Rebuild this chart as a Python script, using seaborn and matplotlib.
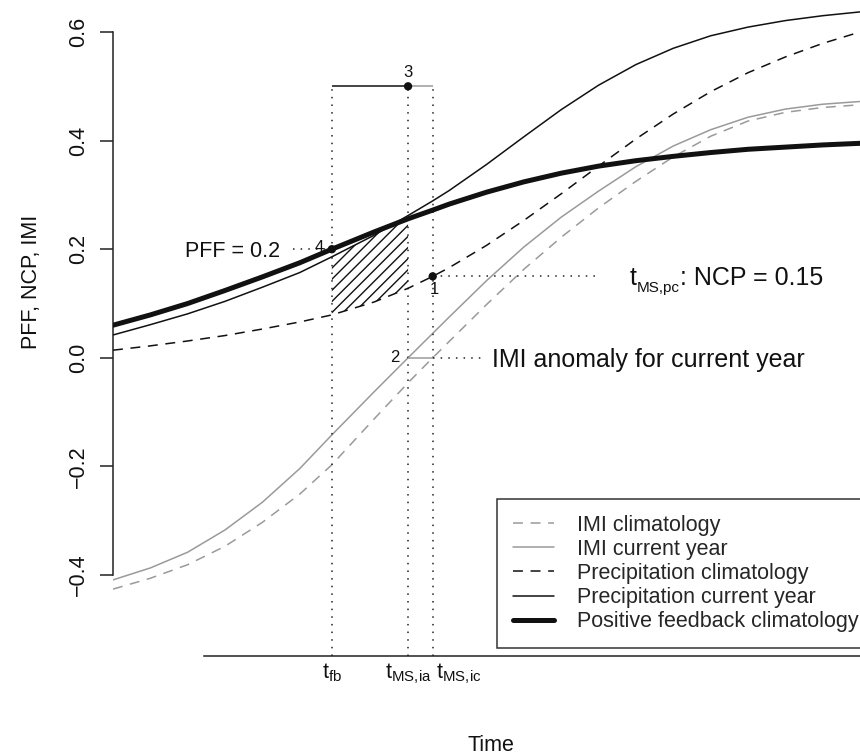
import numpy as np
import pandas as pd
import matplotlib
matplotlib.use("Agg")
import matplotlib.pyplot as plt
import seaborn as sns
from matplotlib.lines import Line2D

# ---------------- data ----------------
time = [0, 5, 10, 15, 20, 25, 29.3, 35, 39.5, 42.8, 45, 50, 55, 60, 65, 70, 75, 80, 85, 90, 95, 100]
pff_clim = [0.060, 0.079, 0.100, 0.124, 0.149, 0.175, 0.200, 0.232, 0.256, 0.272, 0.283, 0.305,
            0.324, 0.340, 0.353, 0.363, 0.371, 0.378, 0.384, 0.388, 0.392, 0.395]
precip_cur = [0.042, 0.061, 0.081, 0.104, 0.130, 0.157, 0.186, 0.226, 0.262, 0.289, 0.308, 0.356,
              0.407, 0.457, 0.502, 0.540, 0.570, 0.593, 0.609, 0.621, 0.630, 0.637]
precip_clim = [0.014, 0.022, 0.031, 0.041, 0.053, 0.066, 0.079, 0.103, 0.128, 0.150, 0.166, 0.207,
               0.253, 0.302, 0.353, 0.403, 0.449, 0.490, 0.525, 0.554, 0.579, 0.600]
imi_cur = [-0.409, -0.387, -0.358, -0.317, -0.266, -0.204, -0.142, -0.062, 0.0, 0.045, 0.075, 0.142,
           0.204, 0.259, 0.307, 0.352, 0.390, 0.420, 0.443, 0.458, 0.467, 0.472]
imi_clim = [-0.426, -0.406, -0.381, -0.347, -0.303, -0.251, -0.197, -0.112, -0.046, 0.0, 0.030, 0.098,
            0.163, 0.222, 0.276, 0.325, 0.370, 0.408, 0.436, 0.452, 0.461, 0.466]

t_fb, t_ms_ia, t_ms_ic = 29.3, 39.5, 42.8
pff_value = 0.2
ncp_value = 0.15
imi_anomaly = 0.0
top_level = 0.5
y_ticks = [-0.4, -0.2, 0.0, 0.2, 0.4, 0.6]
x_tick_labels = [r"$\mathregular{t_{fb}}$", r"$\mathregular{t_{MS,\!ia}}$", r"$\mathregular{t_{MS,\!ic}}$"]
legend_labels = ["IMI climatology", "IMI current year", "Precipitation climatology",
                 "Precipitation current year", "Positive feedback climatology"]

# ---------------- style ----------------
sns.set_theme(style="white")
plt.rcParams["font.family"] = ["Liberation Sans", "DejaVu Sans"]
plt.rcParams["mathtext.fontset"] = "custom"
plt.rcParams["mathtext.rm"] = "Liberation Sans"
plt.rcParams["mathtext.it"] = "Liberation Sans:italic"
plt.rcParams["mathtext.bf"] = "Liberation Sans:bold"
plt.rcParams["hatch.linewidth"] = 1.0
plt.rcParams["hatch.color"] = "#111111"

BLACK = "#111111"
GRAY = "#9a9a9a"
AX = "#222222"
DASH = (0, (6.5, 5))
DOT = (0, (1, 4))
FS = 15.5
FS_BIG = 18
FS_SUB = 11
FS_NUM = 12
W, H = 860, 756

fig = plt.figure(figsize=(W / 100, H / 100), dpi=100)
ax = fig.add_axes([113 / W, 100 / H, 747 / W, 656 / H])

ylim = (-0.4 - 81 / 543, 0.6 + 32 / 543)
ax.set_xlim(0, 100)
ax.set_ylim(*ylim)

df = pd.DataFrame({"time": time, "pff": pff_clim, "pcur": precip_cur, "pclim": precip_clim,
                   "icur": imi_cur, "iclim": imi_clim})

# hatched region between precipitation climatology and min(current precip, PFF)
t_arr = df["time"].to_numpy()
ax.fill_between(t_arr, df["pclim"], np.minimum(df["pcur"], df["pff"]),
                where=(t_arr >= t_fb) & (t_arr <= t_ms_ia), facecolor="none",
                edgecolor=BLACK, hatch="///", linewidth=0, zorder=1)

common = dict(ax=ax, estimator=None, sort=False, legend=False)
sns.lineplot(data=df, x="time", y="iclim", color=GRAY, linewidth=1.1, linestyle=DASH, zorder=2, **common)
sns.lineplot(data=df, x="time", y="icur", color=GRAY, linewidth=1.1, zorder=2, **common)
sns.lineplot(data=df, x="time", y="pclim", color=BLACK, linewidth=1.1, linestyle=DASH, zorder=3, **common)
sns.lineplot(data=df, x="time", y="pcur", color=BLACK, linewidth=1.1, zorder=3, **common)
sns.lineplot(data=df, x="time", y="pff", color=BLACK, linewidth=3.6, zorder=4, **common)

# guide lines
ax.vlines([t_fb, t_ms_ia, t_ms_ic], ylim[0], top_level, colors=AX, linestyles=DOT, linewidth=1.1, zorder=2)
ax.hlines(top_level, t_fb, t_ms_ia, colors=BLACK, linewidth=1.1, zorder=3)
ax.hlines(top_level, t_ms_ia, t_ms_ic, colors=GRAY, linewidth=1.1, zorder=3)
ax.hlines(imi_anomaly, t_ms_ia, t_ms_ic, colors=GRAY, linewidth=1.1, zorder=3)
ax.hlines(pff_value, 24.1, t_fb, colors=AX, linestyles=DOT, linewidth=1.1)
ax.hlines(ncp_value, t_ms_ic, 65.2, colors=AX, linestyles=DOT, linewidth=1.1)
ax.hlines(imi_anomaly, t_ms_ic, 49.4, colors=AX, linestyles=DOT, linewidth=1.1)

pts = pd.DataFrame({"t": [t_ms_ia, t_fb, t_ms_ic], "v": [top_level, pff_value, ncp_value]})
sns.scatterplot(data=pts, x="t", y="v", ax=ax, color=BLACK, s=36, edgecolor="none", zorder=5, legend=False)


def label(x, y, s, fs, ha="center"):
    ax.annotate(s, (x, y), xytext=(0, -0.716 * fs / 2), textcoords="offset points",
                ha=ha, va="baseline", fontsize=fs, color=BLACK, zorder=6)


label(t_ms_ia, 0.528, "3", FS_NUM)
label(27.6, 0.206, "4", FS_NUM)
label(43.0, 0.128, "1", FS_NUM)
label(37.75, 0.003, "2", FS_NUM)
label(22.4, pff_value, "PFF = 0.2", FS, ha="right")
label(50.7, imi_anomaly, "IMI anomaly for current year", FS_BIG, ha="left")

# "t_MS,pc: NCP = 0.15" built from pieces so the subscript size can be set
renderer = fig.canvas.get_renderer()
x0, y0 = ax.transData.transform((69.2, ncp_value))
yb = y0 - 0.716 * FS_BIG / 72 * 100 / 2
xc = x0
for piece, fs, dy in [("t", FS_BIG, 0), ("MS,pc", FS_SUB, -6.5), (": NCP = 0.15", FS_BIG, 0)]:
    tx = fig.text(xc / W, (yb + dy) / H, piece, fontsize=fs, ha="left", va="baseline", color=BLACK)
    xc += tx.get_window_extent(renderer).width

# axes
for s in ["top", "right"]:
    ax.spines[s].set_visible(False)
ax.spines["left"].set_bounds(-0.4, 0.6)
ax.spines["bottom"].set_bounds(12.2, 100)
for s in ["left", "bottom"]:
    ax.spines[s].set_color(AX)
    ax.spines[s].set_linewidth(1.1)

ax.set_yticks(y_ticks)
ax.set_yticklabels([f"{v:.1f}".replace("-", "\u2212") for v in y_ticks], fontsize=FS, color=BLACK)
ax.tick_params(axis="y", direction="out", length=9.4, width=1.1, color=AX, pad=8, left=True)
for lab in ax.get_yticklabels():
    lab.set_rotation(90)
    lab.set_va("center")

# x labels at the three characteristic times
ax.set_xticks([])
for xt, lab_s, ha, dx in zip([t_fb, t_ms_ia, t_ms_ic], x_tick_labels,
                             ["center", "center", "left"], [0, 0, 2.5]):
    ax.annotate(lab_s, xy=(xt, 0), xycoords=("data", "axes fraction"), xytext=(dx, -4),
                textcoords="offset points", ha=ha, va="top", fontsize=FS, color=BLACK,
                annotation_clip=False)
ax.set_xlabel("")
ax.set_ylabel("")

fig.text(31 / W, 1 - 282 / H, "PFF, NCP, IMI", rotation=90, ha="center", va="center",
         fontsize=FS, color=BLACK)
fig.text(491 / W, 5 / H, "Time", ha="center", va="baseline", fontsize=FS, color=BLACK)

handles = [Line2D([], [], color=GRAY, lw=1.1, linestyle=DASH),
           Line2D([], [], color=GRAY, lw=1.1),
           Line2D([], [], color=BLACK, lw=1.1, linestyle=DASH),
           Line2D([], [], color=BLACK, lw=1.1),
           Line2D([], [], color=BLACK, lw=3.6)]
leg = ax.legend(handles, legend_labels, loc="upper left", bbox_to_anchor=(497 / W, 1 - 499 / H),
                bbox_transform=fig.transFigure, borderaxespad=0, frameon=True, fancybox=False,
                edgecolor="#333333", framealpha=1, fontsize=FS, handlelength=1.95,
                handletextpad=1.05, labelspacing=0.15, borderpad=0.72)
leg.get_frame().set_linewidth(1.1)
leg.set_zorder(10)

fig.savefig("out.png", dpi=100)
